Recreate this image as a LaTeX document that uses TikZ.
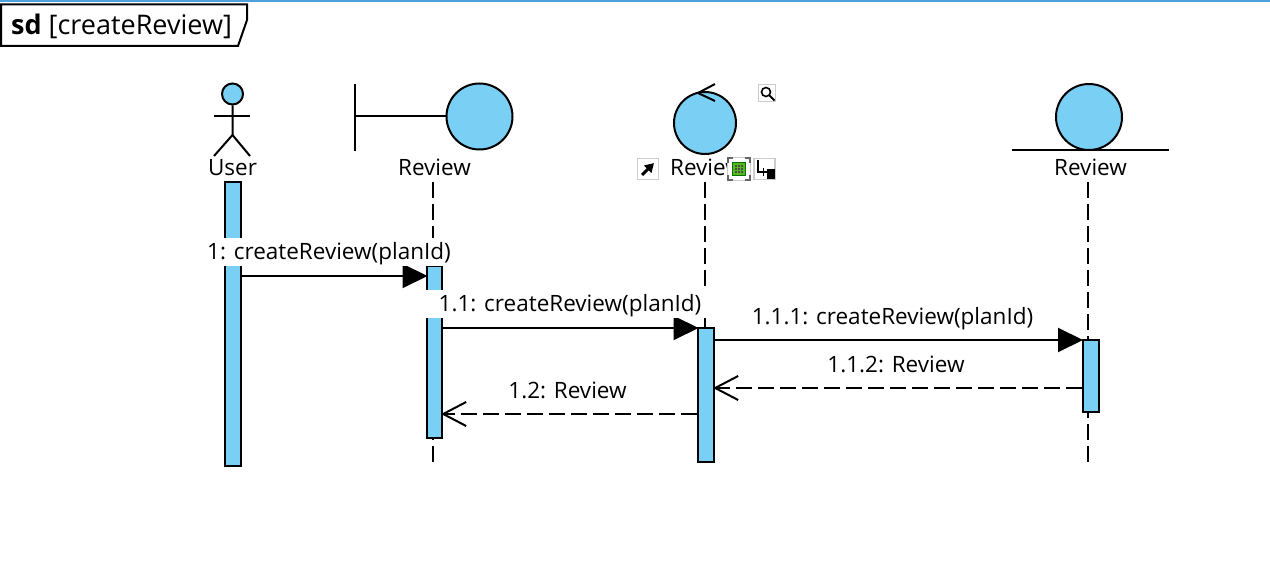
\documentclass[tikz,border=0pt]{standalone}
\usepackage{fontspec}
\setmainfont{Open Sans}
\usetikzlibrary{arrows.meta}
\definecolor{lifefill}{HTML}{7ACFF5}
\definecolor{topbar}{HTML}{4F9FDC}
\definecolor{icongreen}{HTML}{55B91E}
\tikzset{
  lw/.style={line width=2pt},
  bar/.style={draw,lw,fill=lifefill,inner sep=0pt,minimum width=16pt},
  life/.style={lw,dash pattern=on 16pt off 6pt},
  lifename/.style={font=\fontsize{22.5}{24}\selectfont,inner sep=0pt,anchor=base},
  msglabel/.style={font=\fontsize{22.5}{24}\selectfont,fill=white,inner xsep=13pt,inner ysep=3pt,text height=19pt,text depth=3pt},
  call/.style={lw,shorten >=-1.5pt,-{Triangle[length=25pt,width=24pt]}},
  reply/.style={lw,shorten >=-2pt,dash pattern=on 16pt off 6pt,-{Straight Barb[length=23pt,width=24pt,line width=2pt]}},
  tool/.style={draw=black!20,fill=white,line width=1.5pt,inner sep=0pt,minimum size=21pt}
}
\begin{document}
\begin{tikzpicture}[x=1pt,y=-1pt]
  \useasboundingbox (0,0) rectangle (1270,588);
  \fill[topbar] (0,0) rectangle (1270,2);
  % frame
  \draw[lw,fill=white] (1,4.5) -- (247,4.5) -- (247,20) -- (238,46) -- (1,46) -- cycle;
  \node[font=\fontsize{27}{28}\selectfont,anchor=base west,inner sep=0pt] (frametitle) at (11,35) {\textbf{sd} [createReview]};
  % lifelines
  \coordinate (reviewTop) at (432.5,182); \coordinate (reviewEnd) at (432.5,462);
  \coordinate (ctrlTop) at (704.5,182); \coordinate (ctrlEnd) at (704.5,328);
  \coordinate (entityTop) at (1088,182); \coordinate (entityEnd) at (1088,462);
  \draw[life] (reviewTop) -- (reviewEnd);
  \draw[life] (ctrlTop) -- (ctrlEnd);
  \draw[life] (entityTop) -- (entityEnd);
  % actor
  \node[draw,lw,circle,fill=lifefill,minimum size=21pt,inner sep=0pt] (head) at (232.5,94) {};
  \coordinate (hip) at (232.5,135);
  \draw[lw] (head) -- (hip) -- (214,156);
  \draw[lw] (hip) -- (250,156);
  \draw[lw] (214,116) -- (250,116);
  % boundary
  \node[draw,lw,circle,fill=lifefill,minimum size=66pt,inner sep=0pt] (boundary) at (479.5,116.5) {};
  \draw[lw] (354.5,84) -- (354.5,151);
  \draw[lw] (354.5,116.5) -- (boundary);
  % control
  \node[draw,lw,circle,fill=lifefill,minimum size=62pt,inner sep=0pt] (ctrl) at (705,123) {};
  \draw[lw] (715,84) -- (698,93) -- (715,101);
  % entity
  \node[draw,lw,circle,fill=lifefill,minimum size=66pt,inner sep=0pt] (entity) at (1089,117) {};
  \draw[lw] (1012,150.5) -- (1169,150.5);
  % names
  \node[lifename] (userName) at (232.5,176) {User};
  \node[lifename] (boundaryName) at (434.5,176) {Review};
  \node[lifename] (ctrlName) at (706.5,176) {Review};
  \node[lifename] (entityName) at (1090.5,176) {Review};
  % bars
  \node[bar,minimum height=284pt] (userBar) at (233,324) {};
  \node[bar,minimum height=172pt,minimum width=15pt] (reviewBar) at (434.5,352) {};
  \node[bar,minimum height=134pt] (ctrlBar) at (706,395) {};
  \node[bar,minimum height=72pt] (entityBar) at (1090.5,376) {};
  % messages
  \coordinate (a1) at (userBar.east |- 0,276); \coordinate (b1) at (reviewBar.west |- 0,276);
  \coordinate (a2) at (reviewBar.east |- 0,328); \coordinate (b2) at (ctrlBar.west |- 0,328);
  \coordinate (a3) at (ctrlBar.east |- 0,340); \coordinate (b3) at (entityBar.west |- 0,340);
  \coordinate (a4) at (entityBar.west |- 0,388); \coordinate (b4) at (ctrlBar.east |- 0,388);
  \coordinate (a5) at (ctrlBar.west |- 0,414); \coordinate (b5) at (reviewBar.east |- 0,414);
  \draw[call] (a1) -- (b1);
  \draw[call] (a2) -- (b2);
  \draw[call] (a3) -- (b3);
  \draw[reply] (a4) -- (b4);
  \draw[reply] (a5) -- (b5);
  \node[msglabel] (m1) at (329,252) {1: createReview(planId)};
  \node[msglabel] (m2) at (570,304) {1.1: createReview(planId)};
  \node[msglabel] (m3) at (892.5,316) {1.1.1: createReview(planId)};
  \node[msglabel] (m4) at (896,364) {1.1.2: Review};
  \node[msglabel] (m5) at (567.5,390) {1.2: Review};
  % icons
  \node[tool] (iconOpen) at (648,169) {};
  \draw[-{Triangle[length=9pt,width=10pt]},line width=3pt] (iconOpen.center) ++(-6,6) -- ++(12,-12);
  \node[tool,minimum size=17pt] (iconZoom) at (767,93) {};
  \draw[line width=1.6pt] (iconZoom.center) ++(-1,-1) circle (4.5pt);
  \draw[line width=2pt] (iconZoom.center) ++(2.5,2.5) -- ++(5,5);
  \node[tool,minimum size=23pt] (iconGroup) at (739,169) {};
  \draw[black!60,line width=1.8pt] (728,163) |- (733,158) (745,158) -| (750,163) (750,175) |- (745,180) (733,180) -| (728,175);
  \node[draw=green!45!black,fill=icongreen,minimum size=13pt,inner sep=0pt,line width=1pt] (iconCore) at (739,169) {};
  \foreach \dx in {-3,0,3} \foreach \dy in {-3,0,3}
    \fill[black!70] (739+\dx-0.8,169+\dy-0.8) rectangle ++(1.6,1.6);
  \node[tool] (iconStep) at (764.5,169) {};
  \draw[line width=1.8pt] (758,160) -- (758,172) -- (768,172);
  \fill (767,169) rectangle (775,179);
  \draw[line width=1.8pt] (763.5,168) -- (763.5,176);
\end{tikzpicture}
\end{document}
